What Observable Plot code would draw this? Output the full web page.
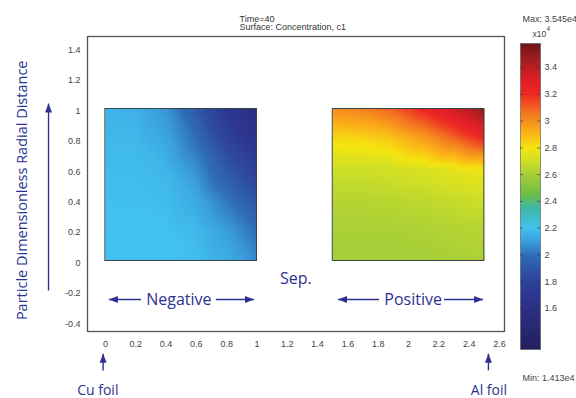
<!DOCTYPE html>
<html>
<head>
<meta charset="utf-8">
<script src="https://cdn.jsdelivr.net/npm/d3@7"></script>
<script src="https://cdn.jsdelivr.net/npm/@observablehq/plot@0.6"></script>
<style>
  html, body { margin: 0; padding: 0; background: #fff; }
  #wrap { position: relative; width: 576px; height: 398px; overflow: hidden; }
  #cbar { position: absolute; left: 505px; top: 0; }
  #main { position: absolute; left: 0; top: 0; }
</style>
</head>
<body>
<div id="wrap"><div id="main"></div><div id="cbar"></div></div>
<script>
// ---------------- data ----------------
const titleLines = ["Time=40", "Surface: Concentration, c1"];
const yAxisLabel = "Particle Dimensionless Radial Distance";
const xTicks = [0, 0.2, 0.4, 0.6, 0.8, 1, 1.2, 1.4, 1.6, 1.8, 2, 2.2, 2.4, 2.6];
const yTicks = [-0.4, -0.2, 0, 0.2, 0.4, 0.6, 0.8, 1, 1.2, 1.4];
const colorTicks = [1.6, 1.8, 2, 2.2, 2.4, 2.6, 2.8, 3, 3.2, 3.4];
const cMax = "Max: 3.545e4";
const cMin = "Min: 1.413e4";

// electrode domains (x extent along cell thickness, r from 0 to 1)
const electrodeNames = ["Negative", "Positive"];
const electrodeStart = [0, 1.5];
const electrodeEnd = [1, 2.5];

// sampling grid (fraction across each electrode / radial distance)
const gridX = [0, 0.2, 0.4, 0.6, 0.8, 1];
const gridR = [0, 0.2, 0.4, 0.6, 0.8, 1];

// concentration c1 (x10^4), rows r = 0 .. 1, columns x-fraction 0 .. 1
const negativeC = [
  [2.20, 2.20, 2.20, 2.19, 2.14, 2.06],
  [2.20, 2.20, 2.20, 2.17, 2.10, 2.00],
  [2.19, 2.19, 2.18, 2.13, 2.02, 1.90],
  [2.18, 2.18, 2.16, 2.07, 1.92, 1.78],
  [2.17, 2.17, 2.12, 2.00, 1.80, 1.65],
  [2.16, 2.15, 2.08, 1.92, 1.70, 1.55]
];
const positiveC = [
  [2.60, 2.60, 2.60, 2.60, 2.61, 2.62],
  [2.61, 2.61, 2.61, 2.62, 2.63, 2.64],
  [2.64, 2.64, 2.65, 2.66, 2.68, 2.70],
  [2.70, 2.70, 2.71, 2.73, 2.76, 2.79],
  [2.82, 2.83, 2.87, 2.96, 3.08, 3.20],
  [3.00, 3.03, 3.10, 3.22, 3.35, 3.50]
];

// annotations
const noteLabels = ["Negative", "Positive", "Sep.", "Cu foil", "Al foil"];
const noteX = [0.485, 2.03, 1.257, -0.05, 2.53];
const noteY = [-0.253, -0.253, -0.115, -0.852, -0.852];
const arrowFromX = [0.235, 0.729, 1.805, 2.234, -0.375, -0.015, 2.527];
const arrowFromY = [-0.253, -0.253, -0.253, -0.253, -0.194, -0.72, -0.72];
const arrowToX   = [0.023, 0.98, 1.535, 2.492, -0.375, -0.015, 2.527];
const arrowToY   = [-0.253, -0.253, -0.253, -0.253, 1.036, -0.61, -0.61];

// ---------------- styles ----------------
const colorStops = [1.29, 1.55, 1.7, 1.85, 2.0, 2.1, 2.2, 2.35, 2.45, 2.6, 2.7, 2.8, 2.9, 3.05, 3.2, 3.3, 3.45, 3.58];
const colorRange = ["#221f5c", "#2b2d80", "#2d3690", "#2e4aa0", "#2f6db8", "#3a9fde", "#42c2ef", "#3fb8a8", "#6cbd45", "#a6ce39", "#cfdf26", "#f4e511", "#fbb817", "#f47a20", "#ed2a24", "#e31e25", "#a61e22", "#6e1518"];
const navy = "#2e3192";
const colorScale = {type: "linear", domain: colorStops, range: colorRange, clamp: true, interpolate: "rgb"};

// ---------------- build ----------------
function fieldPoints(values, k) {
  const pts = [];
  gridR.forEach((r, i) => gridX.forEach((f, j) => {
    pts.push({x: electrodeStart[k] + f * (electrodeEnd[k] - electrodeStart[k]), y: r, c: values[i][j]});
  }));
  return pts;
}
const fields = [negativeC, positiveC];
const electrodes = electrodeNames.map((n, k) => ({name: n, x0: electrodeStart[k], x1: electrodeEnd[k]}));
const notes = noteLabels.map((t, i) => ({t, x: noteX[i], y: noteY[i]}));
const arrows = arrowFromX.map((_, i) => ({x1: arrowFromX[i], y1: arrowFromY[i], x2: arrowToX[i], y2: arrowToY[i]}));

function headMarker(color) {
  const m = d3.create("svg:marker")
    .attr("viewBox", "-9 -4 9 8")
    .attr("markerWidth", 9).attr("markerHeight", 8)
    .attr("markerUnits", "userSpaceOnUse")
    .attr("refX", 0).attr("refY", 0)
    .attr("orient", "auto")
    .attr("fill", color).attr("stroke", "none");
  m.append("path").attr("d", "M-9,-3.5L0,0L-9,3.5Z");
  return m.node();
}
const fmt = d => String(d);

const main = Plot.plot({
  width: 576, height: 398,
  marginLeft: 87, marginRight: 72, marginTop: 36, marginBottom: 67,
  x: {domain: [-0.118, 2.633]},
  y: {domain: [-0.464, 1.477]},
  color: colorScale,
  style: {fontFamily: "Liberation Sans, Arial, sans-serif", fontSize: "9px", color: "#444", background: "#fff", overflow: "visible"},
  marks: [
    ...fields.map((vals, k) => Plot.raster(fieldPoints(vals, k), {
      x: "x", y: "y", fill: "c", interpolate: "barycentric",
      x1: electrodeStart[k], x2: electrodeEnd[k], y1: 0, y2: 1
    })),
    Plot.rect(electrodes, {x1: "x0", x2: "x1", y1: 0, y2: 1, fill: "none", stroke: "#35454a", strokeWidth: 1}),
    Plot.frame({stroke: "#555", strokeWidth: 1.3}),
    Plot.axisX({ticks: xTicks, tickSize: 0, tickPadding: 9, tickFormat: fmt, label: null}),
    Plot.axisY({ticks: yTicks, tickSize: 0, tickPadding: 7, tickFormat: fmt, label: null, dy: 2}),
    Plot.text([titleLines[0]], {frameAnchor: "top-left", dx: 152, dy: -21, text: d => d, textAnchor: "start", fill: "#333", fontSize: 9}),
    Plot.text([titleLines[1]], {frameAnchor: "top-left", dx: 152, dy: -12.5, text: d => d, textAnchor: "start", fill: "#333", fontSize: 9}),
    Plot.text(notes.slice(0, 3), {x: "x", y: "y", text: "t", fill: navy, fontSize: 16, fontFamily: "Open Sans"}),
    Plot.text(notes.slice(3), {x: "x", y: "y", text: "t", fill: navy, fontSize: 14, fontFamily: "Open Sans"}),
    Plot.text([yAxisLabel], {x: -0.545, y: 0.465, text: d => d, rotate: -90, fill: navy, fontSize: 14.5, fontFamily: "Open Sans"}),
    Plot.link(arrows, {x1: "x1", y1: "y1", x2: "x2", y2: "y2", stroke: navy, strokeWidth: 1.4, markerEnd: headMarker})
  ]
});
document.getElementById("main").appendChild(main);

const cbar = Plot.plot({
  width: 71, height: 398,
  marginLeft: 15, marginRight: 36, marginTop: 43, marginBottom: 49,
  x: {domain: [0, 1], axis: null},
  y: {domain: [1.293, 3.58]},
  color: colorScale,
  style: {fontFamily: "Liberation Sans, Arial, sans-serif", fontSize: "9px", color: "#444", background: "transparent", overflow: "visible"},
  marks: [
    Plot.raster({fill: (x, y) => y, x1: 0, x2: 1, y1: 1.293, y2: 3.58}),
    Plot.ruleY(colorTicks, {x1: 0, x2: 0.14, stroke: "#333", strokeOpacity: 0.7}),
    Plot.ruleY(colorTicks, {x1: 0.86, x2: 1, stroke: "#333", strokeOpacity: 0.7}),
    Plot.frame({stroke: "#555", strokeOpacity: 0.6}),
    Plot.axisY({anchor: "right", ticks: colorTicks, tickSize: 0, tickPadding: 4, tickFormat: fmt, label: null}),
    Plot.text([cMax], {frameAnchor: "top-left", dx: 2, dy: -28, text: d => d, textAnchor: "start", fill: "#444"}),
    Plot.text(["x10"], {frameAnchor: "top-left", dx: 12, dy: -13, text: d => d, textAnchor: "start", fill: "#444", fontSize: 8.5}),
    Plot.text(["4"], {frameAnchor: "top-left", dx: 26, dy: -17, text: d => d, textAnchor: "start", fill: "#444", fontSize: 6.5}),
    Plot.text([cMin], {frameAnchor: "bottom-left", dx: 2, dy: 31, text: d => d, textAnchor: "start", fill: "#444"})
  ]
});
document.getElementById("cbar").appendChild(cbar);
</script>
</body>
</html>
